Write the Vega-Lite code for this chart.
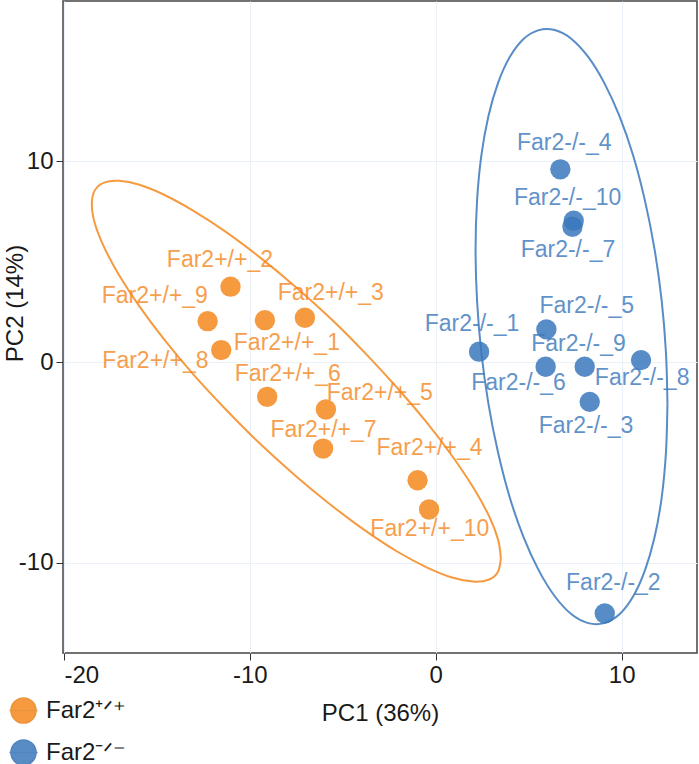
{
  "$schema": "https://vega.github.io/schema/vega-lite/v6.json",
  "width": 634,
  "height": 652,
  "autosize": {"type": "none"},
  "padding": {"left": 63, "top": 1, "right": 2, "bottom": 111},
  "background": "white",
  "config": {
    "font": "Liberation Sans",
    "view": {"stroke": "#444444", "strokeWidth": 1.5},
    "axis": {
      "domain": false,
      "grid": true,
      "gridColor": "#EAF1F9",
      "gridWidth": 1,
      "tickColor": "#333333",
      "tickSize": 7,
      "tickWidth": 1,
      "labelFontSize": 24,
      "labelColor": "#1a1a1a",
      "labelPadding": 3,
      "labelExpr": "datum.value < 0 ? '-' + abs(datum.value) : '' + datum.value",
      "titleFontSize": 24,
      "titleFontWeight": "normal",
      "titleColor": "#1a1a1a"
    }
  },
  "datasets": {
    "pts": [
      {"group": "Far2+/+", "sample": "Far2+/+_1", "pc1": -9.19, "pc2": 2.09, "lx": -8.01, "ly": 0.96},
      {"group": "Far2+/+", "sample": "Far2+/+_2", "pc1": -11.04, "pc2": 3.76, "lx": -11.61, "ly": 5.09},
      {"group": "Far2+/+", "sample": "Far2+/+_3", "pc1": -7.04, "pc2": 2.21, "lx": -5.65, "ly": 3.43},
      {"group": "Far2+/+", "sample": "Far2+/+_4", "pc1": -0.98, "pc2": -5.89, "lx": -0.34, "ly": -4.26},
      {"group": "Far2+/+", "sample": "Far2+/+_5", "pc1": -5.91, "pc2": -2.36, "lx": -3.01, "ly": -1.53},
      {"group": "Far2+/+", "sample": "Far2+/+_6", "pc1": -9.07, "pc2": -1.73, "lx": -7.96, "ly": -0.6},
      {"group": "Far2+/+", "sample": "Far2+/+_7", "pc1": -6.06, "pc2": -4.31, "lx": -6.04, "ly": -3.36},
      {"group": "Far2+/+", "sample": "Far2+/+_8", "pc1": -11.54, "pc2": 0.6, "lx": -15.08, "ly": 0.07},
      {"group": "Far2+/+", "sample": "Far2+/+_9", "pc1": -12.27, "pc2": 2.04, "lx": -15.11, "ly": 3.29},
      {"group": "Far2+/+", "sample": "Far2+/+_10", "pc1": -0.36, "pc2": -7.35, "lx": -0.32, "ly": -8.34},
      {"group": "Far2-/-", "sample": "Far2-/-_1", "pc1": 2.33, "pc2": 0.52, "lx": 1.95, "ly": 1.88},
      {"group": "Far2-/-", "sample": "Far2-/-_2", "pc1": 9.09, "pc2": -12.53, "lx": 9.55, "ly": -11.01},
      {"group": "Far2-/-", "sample": "Far2-/-_3", "pc1": 8.28, "pc2": -1.98, "lx": 8.08, "ly": -3.19},
      {"group": "Far2-/-", "sample": "Far2-/-_4", "pc1": 6.7, "pc2": 9.61, "lx": 6.91, "ly": 10.94},
      {"group": "Far2-/-", "sample": "Far2-/-_5", "pc1": 5.95, "pc2": 1.63, "lx": 8.12, "ly": 2.81},
      {"group": "Far2-/-", "sample": "Far2-/-_6", "pc1": 5.91, "pc2": -0.23, "lx": 4.45, "ly": -1.06},
      {"group": "Far2-/-", "sample": "Far2-/-_7", "pc1": 7.35, "pc2": 6.75, "lx": 7.11, "ly": 5.59},
      {"group": "Far2-/-", "sample": "Far2-/-_8", "pc1": 11.04, "pc2": 0.1, "lx": 11.1, "ly": -0.81},
      {"group": "Far2-/-", "sample": "Far2-/-_9", "pc1": 8.01, "pc2": -0.23, "lx": 7.68, "ly": 0.9},
      {"group": "Far2-/-", "sample": "Far2-/-_10", "pc1": 7.42, "pc2": 7.05, "lx": 7.09, "ly": 8.19}
    ],
    "ell": [
      {"group": "Far2+/+", "i": 0, "pc1": 3.5, "pc2": -9.77},
      {"group": "Far2+/+", "i": 1, "pc1": 3.34, "pc2": -8.82},
      {"group": "Far2+/+", "i": 2, "pc1": 2.84, "pc2": -7.63},
      {"group": "Far2+/+", "i": 3, "pc1": 2.0, "pc2": -6.23},
      {"group": "Far2+/+", "i": 4, "pc1": 0.88, "pc2": -4.68},
      {"group": "Far2+/+", "i": 5, "pc1": -0.49, "pc2": -3.01},
      {"group": "Far2+/+", "i": 6, "pc1": -2.08, "pc2": -1.28},
      {"group": "Far2+/+", "i": 7, "pc1": -3.81, "pc2": 0.46},
      {"group": "Far2+/+", "i": 8, "pc1": -5.64, "pc2": 2.16},
      {"group": "Far2+/+", "i": 9, "pc1": -7.55, "pc2": 3.76},
      {"group": "Far2+/+", "i": 10, "pc1": -9.46, "pc2": 5.22},
      {"group": "Far2+/+", "i": 11, "pc1": -11.29, "pc2": 6.49},
      {"group": "Far2+/+", "i": 12, "pc1": -13.03, "pc2": 7.54},
      {"group": "Far2+/+", "i": 13, "pc1": -14.59, "pc2": 8.33},
      {"group": "Far2+/+", "i": 14, "pc1": -15.94, "pc2": 8.84},
      {"group": "Far2+/+", "i": 15, "pc1": -17.03, "pc2": 9.04},
      {"group": "Far2+/+", "i": 16, "pc1": -17.84, "pc2": 8.95},
      {"group": "Far2+/+", "i": 17, "pc1": -18.34, "pc2": 8.56},
      {"group": "Far2+/+", "i": 18, "pc1": -18.5, "pc2": 7.87},
      {"group": "Far2+/+", "i": 19, "pc1": -18.34, "pc2": 6.92},
      {"group": "Far2+/+", "i": 20, "pc1": -17.84, "pc2": 5.73},
      {"group": "Far2+/+", "i": 21, "pc1": -17.03, "pc2": 4.33},
      {"group": "Far2+/+", "i": 22, "pc1": -15.94, "pc2": 2.78},
      {"group": "Far2+/+", "i": 23, "pc1": -14.59, "pc2": 1.11},
      {"group": "Far2+/+", "i": 24, "pc1": -13.03, "pc2": -0.62},
      {"group": "Far2+/+", "i": 25, "pc1": -11.29, "pc2": -2.36},
      {"group": "Far2+/+", "i": 26, "pc1": -9.46, "pc2": -4.06},
      {"group": "Far2+/+", "i": 27, "pc1": -7.55, "pc2": -5.66},
      {"group": "Far2+/+", "i": 28, "pc1": -5.64, "pc2": -7.12},
      {"group": "Far2+/+", "i": 29, "pc1": -3.81, "pc2": -8.39},
      {"group": "Far2+/+", "i": 30, "pc1": -2.08, "pc2": -9.44},
      {"group": "Far2+/+", "i": 31, "pc1": -0.49, "pc2": -10.23},
      {"group": "Far2+/+", "i": 32, "pc1": 0.88, "pc2": -10.74},
      {"group": "Far2+/+", "i": 33, "pc1": 2.0, "pc2": -10.94},
      {"group": "Far2+/+", "i": 34, "pc1": 2.84, "pc2": -10.85},
      {"group": "Far2+/+", "i": 35, "pc1": 3.34, "pc2": -10.46},
      {"group": "Far2+/+", "i": 36, "pc1": 3.5, "pc2": -9.77},
      {"group": "Far2-/-", "i": 0, "pc1": 12.46, "pc2": -2.07},
      {"group": "Far2-/-", "i": 1, "pc1": 12.38, "pc2": 0.48},
      {"group": "Far2-/-", "i": 2, "pc1": 12.15, "pc2": 3.06},
      {"group": "Far2-/-", "i": 3, "pc1": 11.77, "pc2": 5.61},
      {"group": "Far2-/-", "i": 4, "pc1": 11.25, "pc2": 8.05},
      {"group": "Far2-/-", "i": 5, "pc1": 10.62, "pc2": 10.29},
      {"group": "Far2-/-", "i": 6, "pc1": 9.88, "pc2": 12.26},
      {"group": "Far2-/-", "i": 7, "pc1": 9.06, "pc2": 13.92},
      {"group": "Far2-/-", "i": 8, "pc1": 8.2, "pc2": 15.21},
      {"group": "Far2-/-", "i": 9, "pc1": 7.3, "pc2": 16.11},
      {"group": "Far2-/-", "i": 10, "pc1": 6.4, "pc2": 16.55},
      {"group": "Far2-/-", "i": 11, "pc1": 5.54, "pc2": 16.55},
      {"group": "Far2-/-", "i": 12, "pc1": 4.72, "pc2": 16.11},
      {"group": "Far2-/-", "i": 13, "pc1": 3.98, "pc2": 15.21},
      {"group": "Far2-/-", "i": 14, "pc1": 3.35, "pc2": 13.92},
      {"group": "Far2-/-", "i": 15, "pc1": 2.83, "pc2": 12.26},
      {"group": "Far2-/-", "i": 16, "pc1": 2.45, "pc2": 10.29},
      {"group": "Far2-/-", "i": 17, "pc1": 2.22, "pc2": 8.05},
      {"group": "Far2-/-", "i": 18, "pc1": 2.14, "pc2": 5.61},
      {"group": "Far2-/-", "i": 19, "pc1": 2.22, "pc2": 3.06},
      {"group": "Far2-/-", "i": 20, "pc1": 2.45, "pc2": 0.48},
      {"group": "Far2-/-", "i": 21, "pc1": 2.83, "pc2": -2.07},
      {"group": "Far2-/-", "i": 22, "pc1": 3.35, "pc2": -4.51},
      {"group": "Far2-/-", "i": 23, "pc1": 3.98, "pc2": -6.75},
      {"group": "Far2-/-", "i": 24, "pc1": 4.72, "pc2": -8.72},
      {"group": "Far2-/-", "i": 25, "pc1": 5.54, "pc2": -10.38},
      {"group": "Far2-/-", "i": 26, "pc1": 6.4, "pc2": -11.67},
      {"group": "Far2-/-", "i": 27, "pc1": 7.3, "pc2": -12.57},
      {"group": "Far2-/-", "i": 28, "pc1": 8.2, "pc2": -13.01},
      {"group": "Far2-/-", "i": 29, "pc1": 9.06, "pc2": -13.01},
      {"group": "Far2-/-", "i": 30, "pc1": 9.88, "pc2": -12.57},
      {"group": "Far2-/-", "i": 31, "pc1": 10.62, "pc2": -11.67},
      {"group": "Far2-/-", "i": 32, "pc1": 11.25, "pc2": -10.38},
      {"group": "Far2-/-", "i": 33, "pc1": 11.77, "pc2": -8.72},
      {"group": "Far2-/-", "i": 34, "pc1": 12.15, "pc2": -6.75},
      {"group": "Far2-/-", "i": 35, "pc1": 12.38, "pc2": -4.51},
      {"group": "Far2-/-", "i": 36, "pc1": 12.46, "pc2": -2.07}
    ]
  },
  "layer": [
    {
      "data": {"name": "ell"},
      "mark": {"type": "line", "interpolate": "cardinal", "strokeWidth": 2, "opacity": 0.85},
      "encoding": {
        "x": {"field": "pc1", "type": "quantitative", "scale": {"domain": [-20.05, 14.05], "nice": false, "zero": false},
              "axis": {"values": [-20, -10, 0, 10], "title": "PC1 (36%)", "titlePadding": 14}},
        "y": {"field": "pc2", "type": "quantitative", "scale": {"domain": [-14.5, 18.0], "nice": false, "zero": false},
              "axis": {"values": [-10, 0, 10], "title": "PC2 (14%)", "titleX": -48, "titleY": 302, "titleBaseline": "middle", "titleAngle": -90}},
        "stroke": {"condition": {"test": "datum.group == 'Far2+/+'", "value": "#F5881E"}, "value": "#3A78BC"},
        "detail": {"field": "group"},
        "order": {"field": "i", "type": "quantitative"}
      }
    },
    {
      "data": {"name": "pts"},
      "mark": {"type": "point", "filled": true, "size": 415, "opacity": 0.85},
      "encoding": {
        "x": {"field": "pc1", "type": "quantitative"},
        "y": {"field": "pc2", "type": "quantitative"},
        "color": {"field": "group", "type": "nominal",
          "scale": {"domain": ["Far2+/+", "Far2-/-"], "range": ["#F5881E", "#3A78BC"]},
          "legend": {
            "title": null,
            "orient": "none",
            "legendX": -53,
            "legendY": 696,
            "direction": "vertical",
            "labelFontSize": 24,
            "labelColor": "#1a1a1a",
            "labelOffset": 9,
            "rowPadding": 9,
            "symbolSize": 625,
            "symbolType": "M-1,0A1,1,0,1,1,1,0A1,1,0,1,1,-1,0Z M-1.12,0L1.12,0",
            "symbolOpacity": 0.85,
            "symbolStrokeWidth": 2,
            "labelExpr": "datum.label == 'Far2+/+' ? 'Far2⁺ᐟ⁺' : 'Far2⁻ᐟ⁻'",
            "encode": {"symbols": {"update": {"stroke": {"signal": "datum.value == 'Far2+/+' ? '#E8841C' : '#3470B2'"}, "strokeWidth": {"value": 1.6}}}}
          }
        }
      }
    },
    {
      "data": {"name": "pts"},
      "mark": {"type": "text", "fontSize": 23, "align": "center", "baseline": "middle", "opacity": 0.8},
      "encoding": {
        "x": {"field": "lx", "type": "quantitative"},
        "y": {"field": "ly", "type": "quantitative"},
        "text": {"field": "sample"},
        "fill": {"condition": {"test": "datum.group == 'Far2+/+'", "value": "#F5881E"}, "value": "#3A78BC"}
      }
    }
  ]
}
